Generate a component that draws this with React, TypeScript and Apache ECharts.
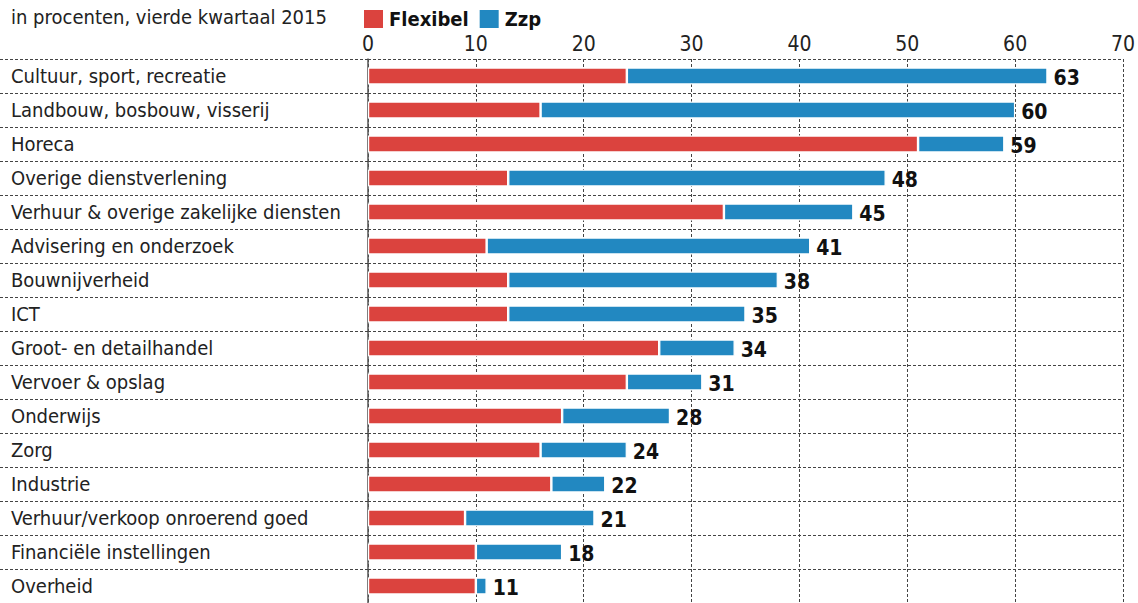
import React, { useEffect, useRef } from "react";
import * as echarts from "echarts";

const subtitle = "in procenten, vierde kwartaal 2015";
const seriesNames = ["Flexibel", "Zzp"];
const categories = [
  "Cultuur, sport, recreatie",
  "Landbouw, bosbouw, visserij",
  "Horeca",
  "Overige dienstverlening",
  "Verhuur & overige zakelijke diensten",
  "Advisering en onderzoek",
  "Bouwnijverheid",
  "ICT",
  "Groot- en detailhandel",
  "Vervoer & opslag",
  "Onderwijs",
  "Zorg",
  "Industrie",
  "Verhuur/verkoop onroerend goed",
  "Financiële instellingen",
  "Overheid",
];
const flexibel = [24, 16, 51, 13, 33, 11, 13, 13, 27, 24, 18, 16, 17, 9, 10, 10];
const zzp = [39, 44, 8, 35, 12, 30, 25, 22, 7, 7, 10, 8, 5, 12, 8, 1];
const totals = [63, 60, 59, 48, 45, 41, 38, 35, 34, 31, 28, 24, 22, 21, 18, 11];
const axisMin = 0;
const axisMax = 70;
const axisStep = 10;

const FONT = "'Liberation Sans Narrow', 'DejaVu Sans Condensed', 'Roboto', sans-serif";
const RED = "#db433e";
const BLUE = "#2288c1";
const TEXT = "#222";
const DASH = "#444";

export default function App() {
  const ref = useRef<HTMLDivElement>(null);
  useEffect(() => {
    document.body.style.margin = "0";
    document.body.style.overflow = "hidden";
    const chart = echarts.init(ref.current!, null, { renderer: "svg" });
    chart.setOption({
      animation: false,
      backgroundColor: "#fff",
      textStyle: { fontFamily: FONT },
      title: {
        text: subtitle,
        left: 11,
        top: 7,
        padding: 0,
        textStyle: { fontFamily: FONT, fontSize: 20, fontWeight: "normal", color: TEXT },
      },
      legend: {
        data: seriesNames,
        left: 362,
        top: 8,
        padding: 0,
        icon: "rect",
        itemWidth: 21,
        itemHeight: 20,
        itemGap: 9,
        textStyle: { fontFamily: FONT, fontSize: 20, fontWeight: "bold", color: "#111" },
      },
      grid: { left: 368, top: 59, width: 757, height: 551, containLabel: false },
      xAxis: {
        type: "value",
        position: "top",
        min: axisMin,
        max: axisMax,
        interval: axisStep,
        axisLine: { show: false },
        axisTick: { show: false },
        axisLabel: { fontFamily: FONT, fontSize: 21, color: TEXT, margin: 5 },
        splitLine: { show: true, lineStyle: { color: DASH, type: [3, 2], width: 1 } },
      },
      yAxis: {
        type: "category",
        inverse: true,
        data: categories,
        axisLine: { show: true, lineStyle: { color: "#555", width: 1.5 } },
        axisTick: { show: true, length: 368, lineStyle: { color: DASH, type: [3, 2], width: 1 } },
        splitLine: { show: true, lineStyle: { color: DASH, type: [3, 2], width: 1 } },
        axisLabel: {
          align: "left",
          margin: 357,
          fontFamily: FONT,
          fontSize: 20,
          color: TEXT,
          padding: [0, 0, 3, 0],
        },
      },
      series: [
        {
          name: seriesNames[0],
          type: "bar",
          stack: "total",
          data: flexibel,
          barWidth: 17,
          itemStyle: { color: RED, borderColor: "#fff", borderWidth: 1.2 },
        },
        {
          name: seriesNames[1],
          type: "bar",
          stack: "total",
          data: zzp,
          barWidth: 17,
          itemStyle: { color: BLUE, borderColor: "#fff", borderWidth: 1.2 },
          label: {
            show: true,
            position: "right",
            distance: 6,
            offset: [0, 2],
            formatter: (p: any) => String(totals[p.dataIndex]),
            fontFamily: FONT,
            fontSize: 21,
            fontWeight: "bold",
            color: "#111",
          },
        },
      ],
    });
    return () => chart.dispose();
  }, []);
  return <div ref={ref} style={{ width: 1138, height: 603 }} />;
}
